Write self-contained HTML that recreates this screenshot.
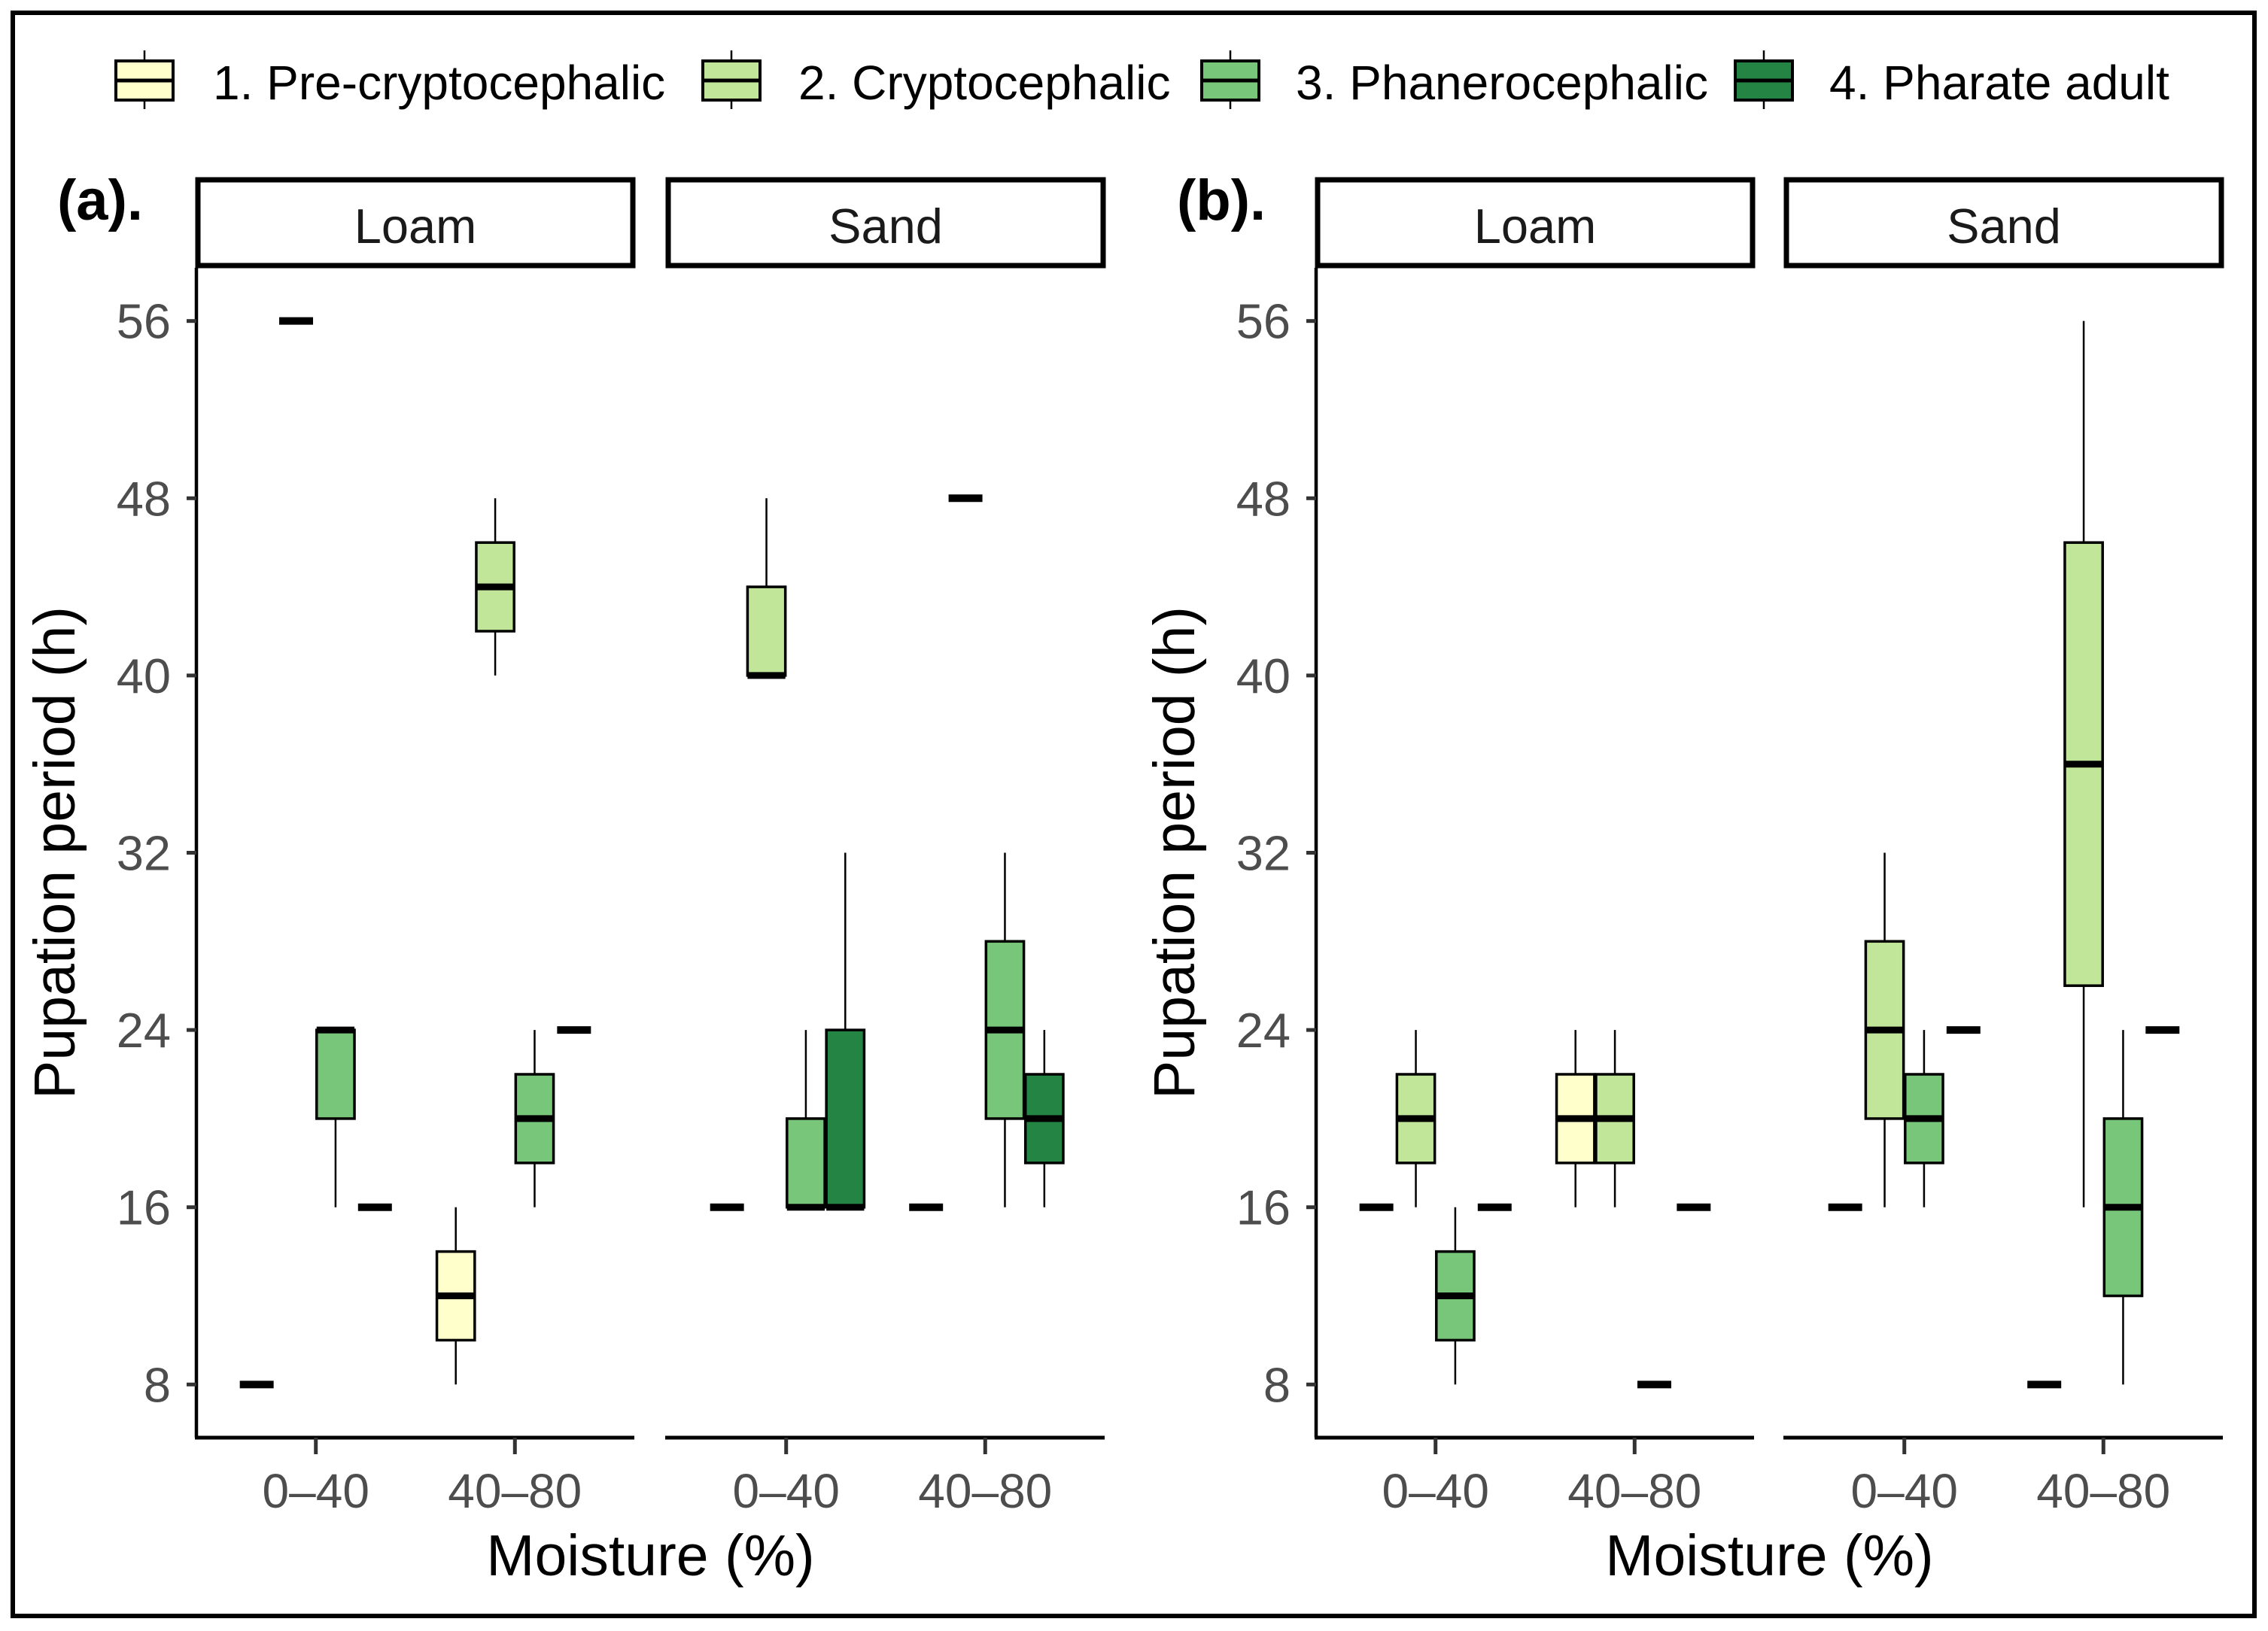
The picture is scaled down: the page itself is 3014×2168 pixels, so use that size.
<!DOCTYPE html>
<html><head><meta charset="utf-8"><style>
html,body{margin:0;padding:0;background:#fff;}
svg{display:block;}
text{font-family:"Liberation Sans",sans-serif;}
</style></head><body>
<svg id="chart" width="3014" height="2168" viewBox="0 0 3014 2168" xmlns="http://www.w3.org/2000/svg">
<rect x="17" y="17" width="2979" height="2131" fill="#fff" stroke="#000" stroke-width="6"/>
<g id="legend"></g>
<g id="plots"></g>
</svg>
<script>
const NS="http://www.w3.org/2000/svg";
const svg=document.getElementById('chart');
const plotsG=document.getElementById('plots');
const legendG=document.getElementById('legend');

const stageNames=["1. Pre-cryptocephalic","2. Cryptocephalic","3. Phanerocephalic","4. Pharate adult"];
const stageColors=["#FFFFCC","#C2E699","#78C679","#238443"];
const plotLabels=["(a).","(b)."];
const soils=["Loam","Sand"];
const moistures=["0–40","40–80"];
const yTicks=[8,16,24,32,40,48,56];

// one entry per box, order: plot, soil, moisture, stage
const boxPlot=  [0,0,0,0,0,0,0,0, 0,0,0,0,0,0,0,0, 1,1,1,1,1,1,1,1, 1,1,1,1,1,1,1,1];
const boxSoil=  [0,0,0,0,0,0,0,0, 1,1,1,1,1,1,1,1, 0,0,0,0,0,0,0,0, 1,1,1,1,1,1,1,1];
const boxMoist= [0,0,0,0,1,1,1,1, 0,0,0,0,1,1,1,1, 0,0,0,0,1,1,1,1, 0,0,0,0,1,1,1,1];
const boxStage= [0,1,2,3,0,1,2,3, 0,1,2,3,0,1,2,3, 0,1,2,3,0,1,2,3, 0,1,2,3,0,1,2,3];
const boxLow=   [8,56,16,16, 8,40,16,24, 16,40,16,16, 16,48,16,16, 16,16,8,16, 16,16,8,16, 16,16,16,24, 8,16,8,24];
const boxQ1=    [8,56,20,16, 10,42,18,24, 16,40,16,16, 16,48,20,18, 16,18,10,16, 18,18,8,16, 16,20,18,24, 8,26,12,24];
const boxMed=   [8,56,24,16, 12,44,20,24, 16,40,16,16, 16,48,24,20, 16,20,12,16, 20,20,8,16, 16,24,20,24, 8,36,16,24];
const boxQ3=    [8,56,24,16, 14,46,22,24, 16,44,20,24, 16,48,28,22, 16,22,14,16, 22,22,8,16, 16,28,22,24, 8,46,20,24];
const boxHigh=  [8,56,24,16, 16,48,24,24, 16,48,24,32, 16,48,32,24, 16,24,16,16, 24,24,8,16, 16,32,24,24, 8,56,24,24];

const panelX=[[261,886],[1749,2372]];
const panelW=582;
const panelTop=356, panelBot=1911;
const yMin=5.6, yMax=58.4;
function ys(v){return panelBot-(v-yMin)/(yMax-yMin)*(panelBot-panelTop);}
function xs(p,s,pos){return panelX[p][s]+(pos-0.4)/2.2*panelW;}
const slot=0.198, boxW=0.19, flatW=0.17;

function el(tag,attrs,parent){const e=document.createElementNS(NS,tag);for(const k in attrs)e.setAttribute(k,attrs[k]);(parent||svg).appendChild(e);return e;}

// legend
const keyX=[154,934,1597,2306], txtX=[283,1061,1722,2431];
stageNames.forEach((n,i)=>{
  const g=el('g',{},legendG);
  
  
  el('line',{x1:keyX[i]+38,x2:keyX[i]+38,y1:67,y2:145,stroke:'#000','stroke-width':2.5},g);
  el('rect',{x:keyX[i],y:81,width:76,height:52,fill:stageColors[i],stroke:'#000','stroke-width':4},g);
  el('line',{x1:keyX[i],x2:keyX[i]+76,y1:107,y2:107,stroke:'#000','stroke-width':5},g);
  const t=el('text',{x:txtX[i],y:132,'font-size':64,fill:'#000'},g);
  t.textContent=n;
});

for(let p=0;p<2;p++){
  const pg=el('g',{},plotsG);
  
  
  const lab=el('text',{x:panelX[p][0]-185,y:292,'font-size':76,'font-weight':'bold',fill:'#000'},pg);
  
  
  lab.textContent=plotLabels[p];
  // y axis
  const yax=el('line',{x1:panelX[p][0],x2:panelX[p][0],y1:panelTop,y2:panelBot,stroke:'#000','stroke-width':4.5},pg);
  
  
  yTicks.forEach(v=>{
    el('line',{x1:panelX[p][0]-13,x2:panelX[p][0],y1:ys(v),y2:ys(v),stroke:'#333','stroke-width':5},pg);
    const t=el('text',{x:panelX[p][0]-34,y:ys(v)+23,'font-size':65,fill:'#4d4d4d','text-anchor':'end'},pg);
    
    
    t.textContent=v;
  });
  const yt=el('text',{x:0,y:0,'font-size':77,fill:'#000','text-anchor':'middle',transform:`translate(${panelX[p][0]-162},${(panelTop+panelBot)/2}) rotate(-90)`},pg);
  
  
  yt.textContent='Pupation period (h)';
  for(let s=0;s<2;s++){
    const x0=panelX[p][s];
    const sg=el('g',{},pg);
    
    
    el('rect',{x:x0+2,y:239,width:panelW-4,height:114,fill:'#fff',stroke:'#000','stroke-width':7},sg);
    const st=el('text',{x:x0+panelW/2,y:323,'font-size':65,fill:'#1a1a1a','text-anchor':'middle'},sg);
    st.textContent=soils[s];
    const xa=el('line',{x1:x0-2,x2:x0+panelW,y1:panelBot,y2:panelBot,stroke:'#000','stroke-width':5},pg);
    
    
    moistures.forEach((m,c)=>{
      const xc=xs(p,s,c+1);
      el('line',{x1:xc,x2:xc,y1:panelBot,y2:panelBot+22,stroke:'#333','stroke-width':5},pg);
      const t=el('text',{x:xc,y:2004,'font-size':64,fill:'#4d4d4d','text-anchor':'middle'},pg);
      
      
      t.textContent=m;
    });
  }
  const xt=el('text',{x:(panelX[p][0]+panelX[p][1]+panelW)/2,y:2094,'font-size':77,fill:'#000','text-anchor':'middle'},pg);
  
  
  xt.textContent='Moisture (%)';
}

for(let i=0;i<boxPlot.length;i++){
  const p=boxPlot[i],s=boxSoil[i],c=boxMoist[i],g=boxStage[i];
  const pos=c+1+(g-1.5)*slot;
  const xc=xs(p,s,pos);
  const bg=el('g',{},plotsG);
  
  
  if(boxQ1[i]===boxQ3[i]&&boxLow[i]===boxHigh[i]){
    const hw=flatW/2.2*panelW/2;
    el('line',{x1:xc-hw,x2:xc+hw,y1:ys(boxMed[i]),y2:ys(boxMed[i]),stroke:'#000','stroke-width':10},bg);
    continue;
  }
  const hw=boxW/2.2*panelW/2;
  el('line',{x1:xc,x2:xc,y1:ys(boxHigh[i]),y2:ys(boxQ3[i]),stroke:'#000','stroke-width':2.5},bg);
  el('line',{x1:xc,x2:xc,y1:ys(boxQ1[i]),y2:ys(boxLow[i]),stroke:'#000','stroke-width':2.5},bg);
  el('rect',{x:xc-hw,y:ys(boxQ3[i]),width:hw*2,height:ys(boxQ1[i])-ys(boxQ3[i]),fill:stageColors[g],stroke:'#000','stroke-width':3.5},bg);
  el('line',{x1:xc-hw,x2:xc+hw,y1:ys(boxMed[i]),y2:ys(boxMed[i]),stroke:'#000','stroke-width':9},bg);
}
</script>
</body></html>
